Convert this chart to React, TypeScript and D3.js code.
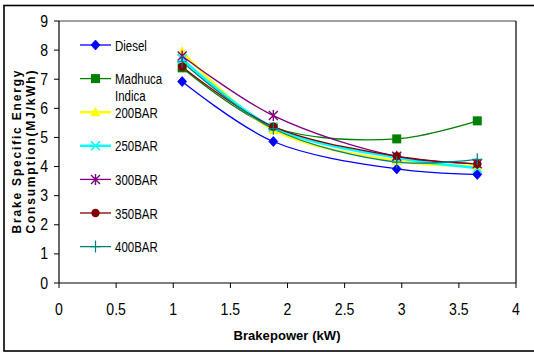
import React from "react";
import * as d3 from "d3";

// Brake power (kW) at each test load
const brakePower = [1.078, 1.876, 2.956, 3.661];

// Brake specific energy consumption (MJ/kWh) per fuel
const diesel = [6.92, 4.86, 3.92, 3.73];
const madhuca = [7.39, 5.35, 4.95, 5.57];
const bar200 = [7.94, 5.26, 4.2, 4.02];
const bar250 = [7.7, 5.35, 4.3, 3.95];
const bar300 = [7.8, 5.75, 4.35, 4.1];
const bar350 = [7.43, 5.37, 4.36, 4.09];
const bar400 = [7.6, 5.3, 4.15, 4.25];

const seriesNames = ["Diesel", "Madhuca Indica", "200BAR", "250BAR", "300BAR", "350BAR", "400BAR"];
const xTicks = [0, 0.5, 1, 1.5, 2, 2.5, 3, 3.5, 4];
const yTicks = [0, 1, 2, 3, 4, 5, 6, 7, 8, 9];

type Marker = "diamond" | "square" | "triangle" | "cross" | "star" | "circle" | "plus";

const seriesStyle: { color: string; line: string; width: number; marker: Marker }[] = [
  { color: "#0000FF", line: "#0000FF", width: 1.3, marker: "diamond" },
  { color: "#008000", line: "#008000", width: 1.3, marker: "square" },
  { color: "#FFFF00", line: "#FFFF00", width: 2.5, marker: "triangle" },
  { color: "#00FFFF", line: "#00FFFF", width: 2.5, marker: "cross" },
  { color: "#800080", line: "#800080", width: 1.3, marker: "star" },
  { color: "#800000", line: "#800000", width: 1.3, marker: "circle" },
  { color: "#008080", line: "#008080", width: 1.3, marker: "plus" },
];

const seriesValues = [diesel, madhuca, bar200, bar250, bar300, bar350, bar400];

const W = 534;
const H = 352;
const plot = { left: 59, right: 516, top: 21, bottom: 283 };

const x = d3.scaleLinear().domain([0, 4]).range([plot.left, plot.right]);
const y = d3.scaleLinear().domain([0, 9]).range([plot.bottom, plot.top]);

const lineGen = d3
  .line<[number, number]>()
  .x((d) => x(d[0]))
  .y((d) => y(d[1]))
  .curve(d3.curveCatmullRom.alpha(0.5));

function MarkerShape({ kind, cx, cy, color }: { kind: Marker; cx: number; cy: number; color: string }) {
  const t = `translate(${cx},${cy})`;
  switch (kind) {
    case "diamond":
      return <path transform={t} d="M0,-5L4.5,0L0,5L-4.5,0Z" fill={color} stroke={color} strokeWidth={0.8} />;
    case "square":
      return <rect x={cx - 4.5} y={cy - 4.5} width={9} height={9} fill={color} />;
    case "triangle":
      return <path transform={t} d="M0,-5.5L5,4L-5,4Z" fill={color} />;
    case "cross":
      return <path transform={t} d="M-4.5,-4.5L4.5,4.5M-4.5,4.5L4.5,-4.5" stroke={color} strokeWidth={1.6} />;
    case "star":
      return (
        <path
          transform={t}
          d="M-4.5,-4.5L4.5,4.5M-4.5,4.5L4.5,-4.5M0,-5.5L0,5.5"
          stroke={color}
          strokeWidth={1.4}
        />
      );
    case "circle":
      return <circle cx={cx} cy={cy} r={4.2} fill={color} />;
    case "plus":
      return <path transform={t} d="M-5,0L5,0M0,-6L0,6" stroke={color} strokeWidth={1.2} />;
  }
}

export default function App() {
  const font = "'Liberation Sans', Arial, sans-serif";
  const legendX = 80;
  const legendY0 = 45;
  const legendStep = 33.6;

  return (
    <svg
      width={W}
      height={H}
      viewBox={`0 0 ${W} ${H}`}
      style={{ position: "fixed", left: 0, top: 0, background: "#fff" }}
      fontFamily={font}
    >
      <rect x={0} y={0} width={W} height={H} fill="#fff" />
      {/* chart frame */}
      <rect x={4} y={5.5} width={560} height={345.5} fill="none" stroke="#000" strokeWidth={1.6} />

      {/* plot area border */}
      <line x1={plot.left} x2={plot.right} y1={plot.top} y2={plot.top} stroke="#808080" strokeWidth={1.5} />
      <line x1={plot.right} x2={plot.right} y1={plot.top} y2={plot.bottom} stroke="#000" strokeWidth={1.2} />

      {/* axes */}
      <line x1={plot.left} x2={plot.left} y1={plot.top} y2={plot.bottom} stroke="#000" strokeWidth={1.2} />
      <line x1={plot.left} x2={plot.right} y1={plot.bottom} y2={plot.bottom} stroke="#000" strokeWidth={1.2} />

      {yTicks.map((v) => (
        <g key={`y${v}`}>
          <line x1={plot.left - 5} x2={plot.left} y1={y(v)} y2={y(v)} stroke="#000" strokeWidth={1} />
          <text
            transform={`translate(48,${y(v) + 5.5}) scale(0.88,1)`}
            textAnchor="end"
            fontSize={16}
            fill="#000"
          >
            {v}
          </text>
        </g>
      ))}

      {xTicks.map((v) => (
        <g key={`x${v}`}>
          <line x1={x(v)} x2={x(v)} y1={plot.bottom} y2={plot.bottom + 5} stroke="#000" strokeWidth={1} />
          <text
            transform={`translate(${x(v)},315) scale(0.88,1)`}
            textAnchor="middle"
            fontSize={16}
            fill="#000"
          >
            {v}
          </text>
        </g>
      ))}

      {/* axis titles */}
      <text x={287} y={340} textAnchor="middle" fontSize={13} fontWeight="bold" textLength={107} lengthAdjust="spacing">
        Brakepower (kW)
      </text>
      <g transform="translate(21,152) rotate(-90)">
        <text x={0} y={0} textAnchor="middle" fontSize={12} fontWeight="bold" textLength={163} lengthAdjust="spacing">
          Brake Specific Energy
        </text>
        <text x={0} y={14} textAnchor="middle" fontSize={12} fontWeight="bold" textLength={163} lengthAdjust="spacing">
          Consumption(MJ/kWh)
        </text>
      </g>

      {/* series lines */}
      {seriesValues.map((vals, i) => {
        const pts = vals.map((v, j) => [brakePower[j], v] as [number, number]);
        return (
          <path
            key={`l${i}`}
            d={lineGen(pts) ?? ""}
            fill="none"
            stroke={seriesStyle[i].line}
            strokeWidth={seriesStyle[i].width}
          />
        );
      })}

      {/* series markers */}
      {seriesValues.map((vals, i) => (
        <g key={`m${i}`}>
          {vals.map((v, j) => (
            <MarkerShape key={j} kind={seriesStyle[i].marker} cx={x(brakePower[j])} cy={y(v)} color={seriesStyle[i].color} />
          ))}
        </g>
      ))}

      {/* legend */}
      {seriesNames.map((name, i) => {
        const ly = legendY0 + i * legendStep;
        const st = seriesStyle[i];
        const words = name === "Madhuca Indica" ? ["Madhuca", "Indica"] : [name];
        return (
          <g key={`lg${i}`}>
            <line x1={legendX} x2={legendX + 31} y1={ly} y2={ly} stroke={st.line} strokeWidth={st.width} />
            <MarkerShape kind={st.marker} cx={legendX + 15.5} cy={ly} color={st.color} />
            {words.map((w, k) => (
              <text
                key={k}
                transform={`translate(115,${ly + 5.5 + k * 17.3}) scale(0.82,1)`}
                fontSize={14}
                fill="#000"
              >
                {w}
              </text>
            ))}
          </g>
        );
      })}
    </svg>
  );
}
